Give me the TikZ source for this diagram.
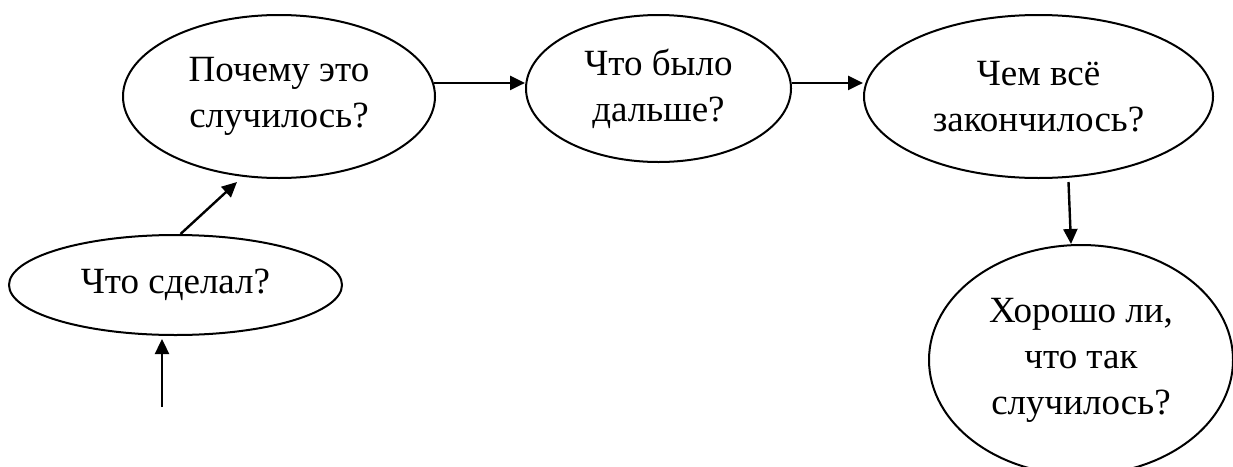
\documentclass[tikz,border=0pt]{standalone}
\usepackage{fontspec}
\setmainfont{Liberation Serif}
\usetikzlibrary{arrows.meta,shapes.geometric,calc}
\tikzset{
  bubble/.style={draw=black, line width=2pt, ellipse, inner sep=0pt, align=center,
    font=\fontsize{37}{46}\selectfont},
  arr/.style={line width=2.4pt, -{Triangle[length=15pt,width=14pt]}}
}
\begin{document}
\begin{tikzpicture}[x=1pt,y=-1pt]
\useasboundingbox (0,0) rectangle (1233,466);
\node[bubble, minimum width=312pt, minimum height=163pt] (e1) at (279,96.5) {Почему это\\случилось?};
\node[bubble, minimum width=265pt, minimum height=147pt] (e2) at (658.5,88.5) {Что было\\дальше?};
\node[bubble, minimum width=349pt, minimum height=163pt] (e3) at (1038.5,96.5) {Чем всё\\закончилось?};
\node[bubble, minimum width=333pt, minimum height=100pt] (e4) at (175.5,285) {Что сделал?};
\node[bubble, minimum width=304pt, minimum height=230pt] (e5) at (1081,360) {Хорошо ли,\\что так\\случилось?};
\coordinate (start) at (162,407);
\draw[arr] (e1.5) -- (e1.5 -| e2.west);
\draw[arr] (e2.east |- e1.5) -- (e3.west |- e1.5);
\draw[arr] ([shift={(30,3)}]e3.south) -- ([shift={(-10,0)}]e5.north);
\draw[arr] ([shift={(5,0)}]e4.north) -- ([shift={(-42,3)}]e1.south);
\draw[arr] (start) -- ([shift={(-13.5,3)}]e4.south);
\end{tikzpicture}
\end{document}
